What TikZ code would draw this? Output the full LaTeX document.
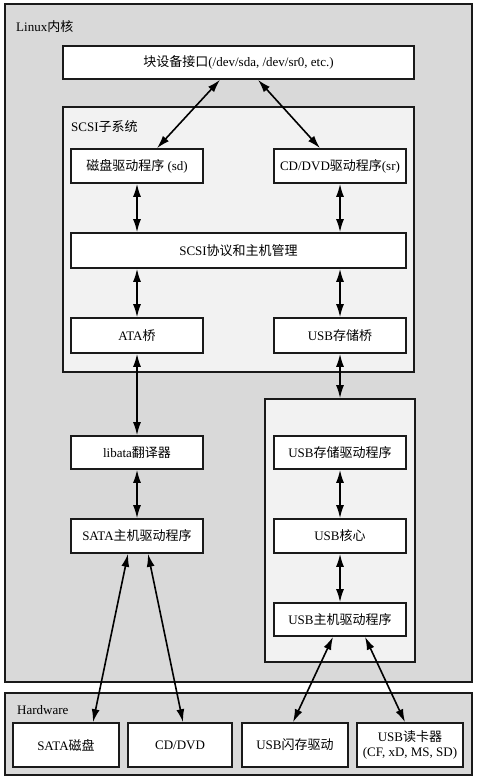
\documentclass[tikz,border=0pt]{standalone}
\usepackage{fontspec}
\setmainfont{Liberation Serif}
\newfontfamily\cjk{Noto Sans CJK SC}
\usetikzlibrary{arrows.meta}
\definecolor{outerfill}{HTML}{D9D9D9}
\definecolor{innerfill}{HTML}{F2F2F2}
\definecolor{edgecol}{HTML}{1A1A1A}
\begin{document}
\begin{tikzpicture}[x=1pt,y=-1pt,
  outerbox/.style={draw=edgecol,line width=2.4pt,fill=outerfill,minimum width=467pt,inner sep=0pt},
  groupbox/.style={draw=edgecol,line width=1.6pt,fill=innerfill,inner sep=0pt},
  wbox/.style={draw=edgecol,line width=1.6pt,fill=white,inner sep=0pt,align=center,font=\fontsize{13}{15.5}\selectfont},
  lbl/.style={anchor=west,inner sep=0pt,font=\fontsize{13}{15.5}\selectfont},
  tip/.tip={Latex[length=13pt,width=8pt]},
  conn/.style={line width=1.6pt,tip-tip}
]
\useasboundingbox (0,0) rectangle (477,779);
% containers
\node[outerbox,minimum height=678pt] (linux) at (238.5,343) {};
\node[outerbox,minimum height=82pt] (hw) at (238.5,734) {};
\node[groupbox,minimum width=351pt,minimum height=265pt] (scsi) at (238.5,239.5) {};
\node[groupbox,minimum width=150pt,minimum height=263pt] (usbgrp) at (340,530.5) {};
% labels
\node[lbl] (linuxlbl) at (16,27) {Linux{\cjk 内核}};
\node[lbl] (scsilbl) at (71,127) {SCSI{\cjk 子系统}};
\node[lbl] (hwlbl) at (17,710) {Hardware};
% boxes
\node[wbox,minimum width=351pt,minimum height=33pt] (blk) at (238.5,62.5) {{\cjk 块设备接口}(/dev/sda, /dev/sr0, etc.)};
\node[wbox,minimum width=132pt,minimum height=34pt] (sd) at (137,166) {{\cjk 磁盘驱动程序} (sd)};
\node[wbox,minimum width=132pt,minimum height=34pt] (sr) at (340,166) {CD/DVD{\cjk 驱动程序}(sr)};
\node[wbox,minimum width=335pt,minimum height=35pt] (proto) at (238.5,250.5) {SCSI{\cjk 协议和主机管理}};
\node[wbox,minimum width=132pt,minimum height=35pt] (ata) at (137,335.5) {ATA{\cjk 桥}};
\node[wbox,minimum width=132pt,minimum height=35pt] (usbbr) at (340,335.5) {USB{\cjk 存储桥}};
\node[wbox,minimum width=132pt,minimum height=33pt] (libata) at (137,452.5) {libata{\cjk 翻译器}};
\node[wbox,minimum width=132pt,minimum height=34pt] (satah) at (137,536) {SATA{\cjk 主机驱动程序}};
\node[wbox,minimum width=132pt,minimum height=33pt] (usbst) at (340,452.5) {USB{\cjk 存储驱动程序}};
\node[wbox,minimum width=132pt,minimum height=34pt] (usbcore) at (340,536) {USB{\cjk 核心}};
\node[wbox,minimum width=132pt,minimum height=33pt] (usbhost) at (340,619.5) {USB{\cjk 主机驱动程序}};
\node[wbox,minimum width=106pt,minimum height=44pt] (satadisk) at (66,745) {SATA{\cjk 磁盘}};
\node[wbox,minimum width=104pt,minimum height=44pt] (cddvd) at (180,745) {CD/DVD};
\node[wbox,minimum width=106pt,minimum height=44pt] (usbflash) at (295,745) {USB{\cjk 闪存驱动}};
\node[wbox,minimum width=106pt,minimum height=44pt] (reader) at (410,745) {USB{\cjk 读卡器}\\(CF, xD, MS, SD)};
% connectors
\draw[conn] ([xshift=-18.5pt]blk.south) -- ([xshift=20pt]sd.north);
\draw[conn] ([xshift=19.5pt]blk.south) -- ([xshift=-20pt]sr.north);
\draw[conn] (sd.south) -- (sd.south |- proto.north);
\draw[conn] (sr.south) -- (sr.south |- proto.north);
\draw[conn] (ata.north |- proto.south) -- (ata.north);
\draw[conn] (usbbr.north |- proto.south) -- (usbbr.north);
\draw[conn] (ata.south) -- (libata.north);
\draw[conn] (usbbr.south) -- (usbbr.south |- usbgrp.north);
\draw[conn] (libata.south) -- (satah.north);
\draw[conn] (usbst.south) -- (usbcore.north);
\draw[conn] (usbcore.south) -- (usbhost.north);
\draw[conn] ([xshift=-9pt]satah.south) -- ([xshift=27pt]satadisk.north);
\draw[conn] ([xshift=11pt]satah.south) -- ([xshift=3pt]cddvd.north);
\draw[conn] ([xshift=-7pt]usbhost.south) -- ([xshift=-2pt]usbflash.north);
\draw[conn] ([xshift=25pt]usbhost.south) -- ([xshift=-5pt]reader.north);
\end{tikzpicture}
\end{document}
